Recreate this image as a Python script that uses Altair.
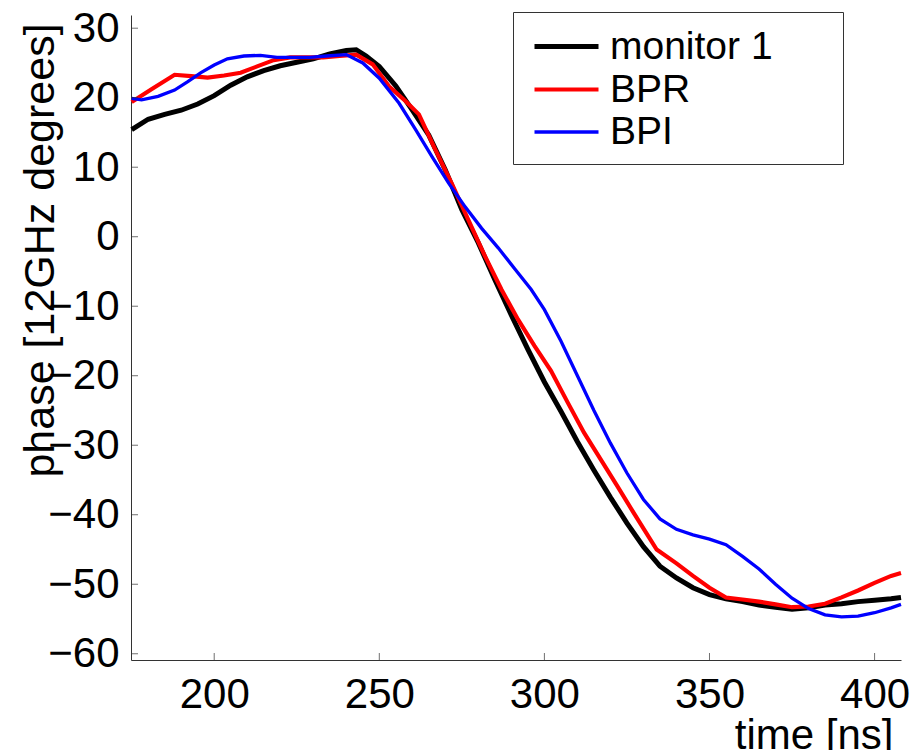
import altair as alt
import pandas as pd

# ---- data ----
t_mon = [175, 180, 185, 190, 195, 200, 205, 210, 215, 220, 225, 230, 235, 240, 243, 246,
         250, 255, 260, 265, 270, 275, 280, 285, 290, 295, 300, 305, 310, 315, 320, 325,
         330, 335, 340, 345, 350, 355, 360, 365, 370, 375, 380, 385, 390, 395, 400, 405, 408]
phase_mon = [15.4, 16.9, 17.6, 18.2, 19.1, 20.3, 21.8, 23.0, 23.9, 24.6, 25.1, 25.6, 26.3, 26.8, 26.9, 26.0,
             24.5, 21.7, 18.2, 14.6, 9.6, 3.9, -0.9, -6.2, -11.3, -16.2, -20.9, -25.1, -29.5, -33.6, -37.5, -41.2,
             -44.6, -47.4, -49.1, -50.5, -51.5, -52.1, -52.5, -53.0, -53.3, -53.6, -53.4, -53.0, -52.8, -52.5, -52.3, -52.1, -51.9]

t_bpr = [175, 181, 188, 193, 198, 203, 208, 213, 218, 223, 228, 233, 238, 243, 248, 253,
         258, 262, 267, 272, 277, 282, 287, 292, 297, 302, 307, 312, 317, 322, 327, 334,
         340, 345, 350, 355, 360, 365, 370, 375, 380, 385, 390, 395, 400, 405, 408]
phase_bpr = [19.4, 21.2, 23.3, 23.1, 22.9, 23.2, 23.6, 24.5, 25.4, 25.8, 25.8, 25.8, 26.0, 26.2, 24.8, 21.6,
             19.5, 17.6, 12.5, 7.6, 2.4, -2.8, -7.6, -11.9, -15.7, -19.3, -23.8, -28.2, -32.0, -35.8, -39.7, -45.0,
             -47.0, -48.8, -50.5, -51.9, -52.2, -52.5, -52.9, -53.3, -53.2, -52.8, -51.9, -50.9, -49.8, -48.8, -48.4]

t_bpi = [175, 178, 183, 188, 192, 196, 200, 204, 209, 214, 219, 224, 229, 234, 240, 245,
         250, 256, 261, 266, 271, 276, 281, 286, 291, 296, 300, 305, 310, 315, 320, 325,
         330, 335, 340, 345, 350, 355, 360, 365, 370, 375, 380, 385, 390, 395, 400, 405, 408]
phase_bpi = [19.9, 19.7, 20.2, 21.1, 22.3, 23.6, 24.7, 25.6, 26.0, 26.1, 25.8, 25.8, 25.8, 26.0, 26.2, 25.0,
             22.8, 19.2, 15.4, 11.5, 7.7, 4.3, 1.2, -1.6, -4.6, -7.6, -10.5, -15.0, -20.0, -25.0, -29.7, -34.0,
             -37.8, -40.6, -42.1, -42.9, -43.5, -44.3, -46.0, -47.8, -50.0, -52.0, -53.5, -54.4, -54.7, -54.6, -54.1, -53.4, -52.9]

series = ["monitor 1", "BPR", "BPI"]
colors = ["#000000", "#ff0000", "#0000ff"]
widths = [5, 3.3, 3.3]

x_ticks = [200, 250, 300, 350, 400]
y_ticks = [-60, -50, -40, -30, -20, -10, 0, 10, 20, 30]
X_DOM = [174.8, 408.0]
Y_DOM = [-60.9, 31.9]

rows = []
for name, ts, ps in [(series[0], t_mon, phase_mon), (series[1], t_bpr, phase_bpr), (series[2], t_bpi, phase_bpi)]:
    for t, p in zip(ts, ps):
        rows.append({"series": name, "time": t, "phase": p})
df = pd.DataFrame(rows)

FONT = "Liberation Sans"
AX = "#333333"

xs = alt.Scale(domain=X_DOM, nice=False, zero=False)
ys = alt.Scale(domain=Y_DOM, nice=False, zero=False)

x_axis = alt.Axis(
    values=x_ticks, ticks=False, grid=False, labelFontSize=42, labelPadding=14,
    labelFont=FONT, labelColor="black", labelFlush=False, labelOverlap=False,
    domainColor=AX, title="time [ns]", titleFont=FONT, titleFontSize=42,
    titleFontWeight="normal", titleColor="black", titleX=762, titleY=88,
    titleAlign="right", titleBaseline="alphabetic", orient="bottom")
y_axis = alt.Axis(
    values=y_ticks, ticks=False, grid=False, labelFontSize=42, labelPadding=12,
    labelFont=FONT, labelColor="black", labelFlush=False, labelOverlap=False,
    domainColor=AX, title="phase [12GHz degrees]", titleFont=FONT, titleFontSize=43,
    titleFontWeight="normal", titleColor="black", titleX=-91, titleY=235,
    titleAngle=270, titleAlign="center", titleBaseline="middle", orient="left")

legend = alt.Legend(
    title=None, orient="none", legendX=382, legendY=-3,
    symbolType="M-1.6,0L1.6,0", symbolSize=1600, rowPadding=0, padding=12,
    symbolOffset=19, labelOffset=21, labelFontSize=39, labelFont=FONT, labelLimit=500,
    labelColor="black", strokeColor=AX, fillColor="white",
    labelExpr="datum.label + '\u2800\u2800'",
)

lines = alt.Chart(df).mark_line().encode(
    x=alt.X("time:Q", scale=xs, axis=x_axis),
    y=alt.Y("phase:Q", scale=ys, axis=y_axis),
    color=alt.Color("series:N", scale=alt.Scale(domain=series, range=colors), legend=legend, sort=series),
    strokeWidth=alt.StrokeWidth("series:N", scale=alt.Scale(domain=series, range=widths), legend=legend, sort=series),
)

xtick = alt.Chart(pd.DataFrame({"time": x_ticks})).mark_tick(
    orient="vertical", size=7, thickness=1, color=AX, yOffset=-3.5
).encode(x=alt.X("time:Q", scale=xs, axis=x_axis),
         y=alt.YDatum(Y_DOM[0], scale=ys, axis=y_axis))

ytick = alt.Chart(pd.DataFrame({"phase": y_ticks})).mark_tick(
    orient="horizontal", size=7, thickness=1, color=AX, xOffset=3.5
).encode(y=alt.Y("phase:Q", scale=ys, axis=y_axis),
         x=alt.XDatum(X_DOM[0], scale=xs, axis=x_axis))

chart = alt.layer(lines, xtick, ytick).properties(
    width=770, height=645,
    autosize=alt.AutoSizeParams(type="none"),
    padding={"left": 123, "top": 7, "right": 10, "bottom": 90},
    view=alt.ViewBackground(stroke="transparent", strokeWidth=0),
).configure_view(strokeWidth=0, stroke="transparent").configure(font=FONT)

chart.save("out.html", embed_options={"renderer": "svg", "actions": False})
